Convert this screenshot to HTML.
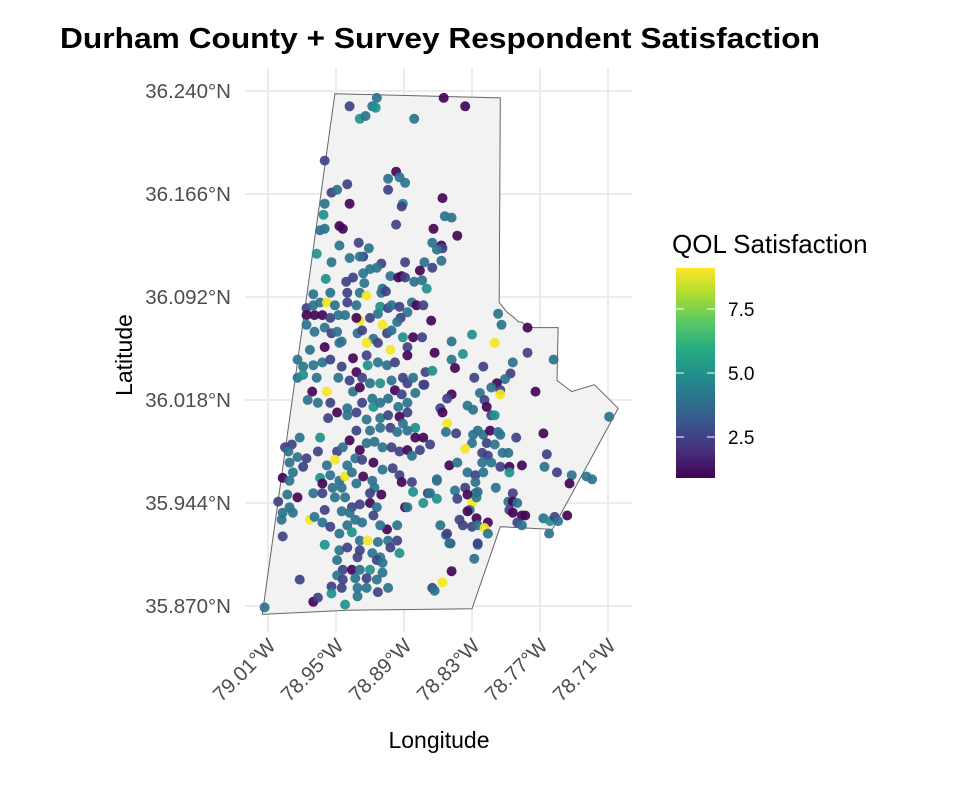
<!DOCTYPE html>
<html><head><meta charset="utf-8">
<style>
body{margin:0;background:#fff;}
svg{display:block;font-family:"Liberation Sans",Arial,sans-serif;}
</style></head>
<body>
<svg id="chart" width="956" height="786" viewBox="0 0 956 786">
<defs>
<linearGradient id="vir" x1="0" y1="1" x2="0" y2="0">
<stop offset="0" stop-color="#440154"/><stop offset="0.125" stop-color="#472d7b"/>
<stop offset="0.25" stop-color="#3b528b"/><stop offset="0.375" stop-color="#2c728e"/>
<stop offset="0.5" stop-color="#21918c"/><stop offset="0.625" stop-color="#28ae80"/>
<stop offset="0.75" stop-color="#5ec962"/><stop offset="0.875" stop-color="#addc30"/>
<stop offset="1" stop-color="#fde725"/>
</linearGradient>
</defs>
<text x="60" y="48" font-size="29" font-weight="bold" fill="#000" textLength="760" lengthAdjust="spacingAndGlyphs">Durham County + Survey Respondent Satisfaction</text>
<g id="grid"></g>
<g id="map"></g>
<g id="points"></g>
<g id="axes"></g>
<text x="439" y="748" font-size="23" text-anchor="middle" fill="#000">Longitude</text>
<text transform="translate(132,355) rotate(-90)" font-size="23" text-anchor="middle" fill="#000">Latitude</text>
<g>
<text x="672" y="253" font-size="26" fill="#000">QOL Satisfaction</text>
<rect x="676" y="268" width="39" height="210" fill="url(#vir)"/>
<g id="legendTicks"></g>
</g>
</svg>
<script>
const lonTicks=[79.01,78.95,78.89,78.83,78.77,78.71];
const latTicks=[36.240,36.166,36.092,36.018,35.944,35.870];
const legendVals=[2.5,5.0,7.5];
const boundaryLon=[78.951,78.805,78.806,78.803,78.799,78.794,78.789,78.786,78.781,78.754,78.755,78.742,78.722,78.701,78.759,78.805,78.830,78.940,79.015];
const boundaryLat=[36.238,36.235,36.088,36.085,36.081,36.078,36.074,36.074,36.070,36.070,36.032,36.024,36.029,36.012,35.925,35.927,35.868,35.867,35.864];
const lon=[78.938,78.914,78.918,78.915,78.929,78.924,78.855,78.836,78.881,78.960,78.897,78.904,78.894,78.889,78.904,78.940,78.954,78.949,78.960,78.938,78.891,78.892,78.856,78.961,78.897,78.854,78.848,78.964,78.960,78.947,78.944,78.864,78.843,78.930,78.947,78.921,78.967,78.865,78.857,78.856,78.861,78.938,78.926,78.929,78.954,78.889,78.872,78.910,78.857,78.865,78.876,78.920,78.914,78.926,78.959,78.902,78.892,78.895,78.889,78.935,78.941,78.925,78.881,78.874,78.870,78.970,78.955,78.940,78.929,78.923,78.909,78.910,78.906,78.976,78.970,78.964,78.958,78.951,78.940,78.932,78.976,78.969,78.962,78.955,78.948,78.942,78.929,78.932,78.920,78.913,78.911,78.904,78.901,78.894,78.887,78.883,78.879,78.873,78.893,78.909,78.896,78.866,78.976,78.969,78.960,78.954,78.949,78.945,78.931,78.927,78.917,78.905,78.901,78.891,78.882,78.874,78.848,78.830,78.807,78.804,78.810,78.923,78.781,78.838,78.863,78.848,78.845,78.794,78.781,78.758,78.820,78.828,78.796,78.801,78.808,78.813,78.805,78.805,78.774,78.871,78.865,78.872,78.848,78.852,78.823,78.819,78.834,78.829,78.817,78.813,78.810,78.858,78.856,78.852,78.709,78.853,78.844,78.829,78.825,78.820,78.814,78.807,78.830,78.817,78.805,78.791,78.767,78.836,78.810,78.821,78.816,78.803,78.798,78.764,78.850,78.843,78.821,78.813,78.805,78.797,78.797,78.786,78.766,78.755,78.834,78.827,78.820,78.742,78.729,78.724,78.744,78.861,78.827,78.845,78.836,78.809,78.869,78.827,78.873,78.861,78.843,78.834,78.825,78.830,78.832,78.826,78.834,78.826,78.841,78.838,78.830,78.825,78.816,78.819,78.816,78.794,78.798,78.794,78.790,78.797,78.794,78.786,78.783,78.790,78.786,78.767,78.761,78.757,78.754,78.746,78.762,78.858,78.853,78.849,78.825,78.828,78.848,78.856,78.865,78.863,
78.973,78.960,78.947,78.913,78.902,78.887,78.887,78.984,78.979,78.970,78.962,78.955,78.945,78.935,78.932,78.923,78.922,78.913,78.905,78.898,78.984,78.979,78.967,78.948,78.938,78.927,78.920,78.911,78.901,78.891,78.887,78.882,78.873,78.971,78.958,78.975,78.966,78.955,78.949,78.940,78.935,78.929,78.927,78.918,78.917,78.911,78.904,78.898,78.892,78.895,78.887,78.887,78.880,78.957,78.940,78.932,78.923,78.911,78.904,78.894,78.891,78.880,78.932,78.920,78.911,78.902,78.896,78.887,78.880,78.873,78.867,78.982,78.989,78.995,78.964,78.966,78.949,78.944,78.938,78.929,78.923,78.916,78.909,78.901,78.894,78.887,78.883,78.876,78.992,78.984,78.976,78.991,78.979,78.988,78.997,78.991,78.951,78.940,78.933,78.927,78.917,78.958,78.964,78.955,78.947,78.942,78.936,78.926,78.918,78.909,78.900,78.894,78.892,78.962,78.953,78.945,78.932,78.916,78.910,78.920,78.993,78.984,79.001,78.991,78.997,78.988,78.998,78.973,78.970,78.962,78.951,78.942,78.936,78.929,78.920,78.914,78.960,78.969,78.962,78.955,78.945,78.938,78.933,78.927,78.917,78.889,78.896,78.905,78.911,78.940,78.947,78.936,78.929,78.922,78.913,78.904,78.896,78.894,78.902,78.997,78.960,78.947,78.940,78.929,78.918,78.911,78.931,78.949,78.944,78.936,78.929,78.920,78.914,78.909,78.949,78.944,78.933,78.923,78.914,78.909,78.954,78.945,78.931,78.923,78.913,78.904,78.954,78.931,78.942,78.982,78.970,78.966,79.013,78.852,78.850,78.825,78.867,78.861,78.882,78.883,78.887];
const lat=[36.229,36.235,36.229,36.228,36.220,36.222,36.235,36.229,36.220,36.190,36.182,36.177,36.178,36.174,36.169,36.173,36.167,36.169,36.159,36.159,36.159,36.157,36.163,36.151,36.144,36.150,36.149,36.140,36.141,36.143,36.141,36.141,36.136,36.131,36.129,36.127,36.123,36.131,36.129,36.127,36.126,36.120,36.121,36.121,36.117,36.117,36.117,36.116,36.118,36.113,36.111,36.112,36.113,36.109,36.105,36.107,36.107,36.106,36.106,36.106,36.103,36.102,36.103,36.104,36.098,36.094,36.095,36.095,36.095,36.093,36.098,36.095,36.096,36.084,36.086,36.088,36.088,36.086,36.088,36.086,36.079,36.079,36.079,36.077,36.079,36.079,36.075,36.077,36.077,36.080,36.085,36.084,36.086,36.085,36.081,36.088,36.086,36.086,36.077,36.072,36.074,36.075,36.072,36.067,36.070,36.066,36.067,36.060,36.066,36.068,36.062,36.066,36.068,36.063,36.063,36.063,36.060,36.065,36.080,36.072,36.059,36.059,36.070,36.051,36.052,36.047,36.041,36.045,36.052,36.047,36.042,36.034,36.037,36.033,36.030,36.027,36.025,36.022,36.024,36.038,36.039,36.029,36.022,36.019,36.023,36.018,36.014,36.011,36.013,36.007,36.007,36.012,36.009,36.001,36.006,35.995,35.994,35.993,35.996,35.993,35.996,35.995,35.987,35.987,35.993,35.991,35.994,35.983,35.986,35.980,35.978,35.980,35.980,35.979,35.971,35.973,35.973,35.973,35.970,35.970,35.966,35.971,35.970,35.966,35.966,35.964,35.966,35.964,35.963,35.961,35.958,35.961,35.959,35.953,35.955,35.955,35.951,35.951,35.944,35.947,35.947,35.950,35.952,35.944,35.939,35.948,35.938,35.933,35.932,35.928,35.927,35.928,35.930,35.926,35.922,35.951,35.945,35.945,35.944,35.939,35.937,35.935,35.935,35.930,35.928,35.933,35.931,35.934,35.931,35.935,35.922,35.928,35.921,35.915,35.914,35.904,35.895,35.887,35.883,35.881,
36.054,36.056,36.059,36.059,36.054,36.056,36.050,36.047,36.042,36.043,36.045,36.047,36.042,36.048,36.038,36.050,36.043,36.045,36.043,36.045,36.034,36.036,36.034,36.034,36.032,36.034,36.030,36.030,36.032,36.034,36.030,36.034,36.029,36.024,36.024,36.018,36.016,36.016,36.009,36.012,36.024,36.027,36.016,36.019,36.013,36.016,36.019,36.025,36.022,36.013,36.016,36.009,36.023,36.005,36.007,36.009,36.004,36.005,36.007,36.006,36.001,35.998,35.996,35.996,35.998,35.998,35.995,35.996,35.991,35.991,35.986,35.991,35.986,35.984,35.991,35.981,35.981,35.984,35.989,35.982,35.987,35.988,35.984,35.984,35.981,35.982,35.978,35.982,35.981,35.977,35.976,35.973,35.970,35.966,35.962,35.960,35.975,35.971,35.976,35.975,35.973,35.971,35.962,35.964,35.960,35.963,35.966,35.963,35.960,35.968,35.969,35.964,35.959,35.958,35.955,35.955,35.958,35.955,35.950,35.951,35.950,35.948,35.945,35.941,35.937,35.937,35.932,35.932,35.951,35.951,35.948,35.948,35.941,35.943,35.944,35.941,35.939,35.934,35.930,35.927,35.938,35.937,35.932,35.930,35.935,35.941,35.928,35.925,35.928,35.928,35.922,35.923,35.917,35.917,35.916,35.917,35.917,35.908,35.912,35.920,35.914,35.910,35.912,35.910,35.908,35.905,35.905,35.903,35.896,35.896,35.896,35.896,35.903,35.901,35.892,35.889,35.890,35.890,35.889,35.894,35.884,35.883,35.883,35.883,35.880,35.883,35.879,35.877,35.871,35.889,35.873,35.876,35.869,35.922,35.915,35.915,35.951,35.960,35.952,35.959,35.941];
const qol=[2.5,4,4,5,5,4,1,1,4,2.5,1,4,4,4,2.5,2.5,2.5,4,4,1,5,2.5,1,5,2.5,4,4,4,4,1,1,1,1,2.5,4,4,5,4,1,2.5,4,4,2.5,4,4,2.5,4,2.5,4,2.5,1,4,4,4,5,4,1,1,2.5,2.5,2.5,4,4,4,5,4,4,2.5,4,9,4,4,2.5,2.5,4,4,9,4,2.5,4,1,1,1,2.5,4,4,9,1,2.5,4,5,2.5,4,2.5,4,4,1,2.5,2.5,9,4,1,4,4,4,2.5,4,4,4,2.5,4,2.5,4,5,1,2.5,4,5,4,4,9,9,1,5,1,4,1,4,2.5,4,2.5,2.5,2.5,4,1,4,2.5,9,1,2.5,5,2.5,1,2.5,4,2.5,4,4,1,2.5,5,2.5,1,9,4,4,2.5,4,4,4,1,4,4,2.5,4,2.5,1,9,4,2.5,2.5,4,4,2.5,1,4,4,4,2.5,1,5,1,4,2.5,4,2.5,4,4,4,4,1,4,4,4,2.5,4,2.5,4,5,5,2.5,1,4,9,4,4,1,1,2.5,2.5,2.5,4,1,9,4,2.5,4,1,4,2.5,1,1,1,2.5,4,4,5,2.5,4,1,4,4,4,2.5,4,4,1,9,2.5,4,
4,1,4,2.5,9,2.5,1,4,4,4,4,2.5,2.5,1,1,2.5,5,4,4,2.5,4,5,4,4,2.5,2.5,4,5,4,2.5,2.5,4,2.5,1,9,4,4,2.5,1,4,4,1,2.5,4,5,4,4,1,2.5,4,4,2.5,4,2.5,4,2.5,4,4,2.5,1,4,5,2.5,4,4,2.5,4,4,1,1,2.5,4,2.5,2.5,5,2.5,2.5,4,1,1,4,4,4,2.5,2.5,1,4,2.5,4,4,2.5,4,2.5,4,1,4,9,4,4,2.5,1,4,5,4,4,9,4,1,4,4,2.5,2.5,1,1,4,4,4,4,1,2.5,4,1,2.5,4,4,4,4,9,4,2.5,4,4,2.5,2.5,1,4,2.5,4,4,2.5,4,4,4,4,2.5,1,4,1,4,4,4,5,4,9,4,4,2.5,5,2.5,2.5,5,4,2.5,2.5,4,4,2.5,4,2.5,1,4,5,2.5,4,4,2.5,4,2.5,4,4,2.5,2.5,4,4,2.5,4,5,4,5,2.5,1,2.5,4,2.5,4,2.5,4,4,5,2.5];

const NS='http://www.w3.org/2000/svg';
const xs=l=>268+(79.01-l)*1133.3;
const ys=a=>606-(a-35.870)*1392;
const stops=['#440154','#472d7b','#3b528b','#2c728e','#21918c','#28ae80','#5ec962','#addc30','#fde725'];
function hex(c){return [1,3,5].map(i=>parseInt(c.substr(i,2),16));}
function viridis(v){if(!isFinite(v))v=4;let t=Math.max(0,Math.min(1,(v-0.9)/8.2))*8;let i=Math.min(7,Math.floor(t));let f=t-i;let a=hex(stops[i]),b=hex(stops[i+1]);return 'rgb('+a.map((x,k)=>Math.round(x+(b[k]-x)*f)).join(',')+')';}
function mk(tag,attrs,parent){const e=document.createElementNS(NS,tag);for(const k in attrs)e.setAttribute(k,attrs[k]);parent.appendChild(e);return e;}

const grid=document.getElementById('grid'),axes=document.getElementById('axes');
lonTicks.forEach(t=>{
  const l=mk('line',{x1:xs(t),x2:xs(t),y1:68,y2:632,stroke:'#ebebeb','stroke-width':2},grid);
  
  
  const tx=mk('text',{transform:'translate('+(xs(t)+9)+',647) rotate(-45)','text-anchor':'end','font-size':20.5,fill:'#4d4d4d'},axes);
  tx.textContent=t.toFixed(2)+'°W';
  
  
});
latTicks.forEach(t=>{
  const l=mk('line',{x1:245,x2:632,y1:ys(t),y2:ys(t),stroke:'#ebebeb','stroke-width':2},grid);
  
  
  const tx=mk('text',{x:231,y:ys(t)+7,'text-anchor':'end','font-size':20.5,fill:'#4d4d4d'},axes);
  tx.textContent=t.toFixed(3)+'°N';
  
  
});
const pts=boundaryLon.map((l,i)=>xs(l).toFixed(1)+','+ys(boundaryLat[i]).toFixed(1)).join(' ');
const poly=mk('polygon',{points:pts,fill:'#f2f2f2',stroke:'#666','stroke-width':1},document.getElementById('map'));


const pg=document.getElementById('points');
const n=Math.min(lon.length,lat.length);
for(let i=0;i<n;i++){
  const c=mk('circle',{cx:xs(lon[i]).toFixed(1),cy:ys(lat[i]).toFixed(1),r:5,fill:viridis(qol[i]),'fill-opacity':0.92},pg);
  
  
}
const lt=document.getElementById('legendTicks');
legendVals.forEach(v=>{
  const y=437-(v-2.5)*25.6;
  const a=mk('line',{x1:676,x2:684,y1:y,y2:y,stroke:'#fff','stroke-width':1},lt);
  
  
  const b=mk('line',{x1:707,x2:715,y1:y,y2:y,stroke:'#fff','stroke-width':1},lt);
  
  
  const tx=mk('text',{x:728,y:y+7,'font-size':19,fill:'#000'},lt);
  tx.textContent=v.toFixed(1);
  
  
});
</script>
</body></html>
